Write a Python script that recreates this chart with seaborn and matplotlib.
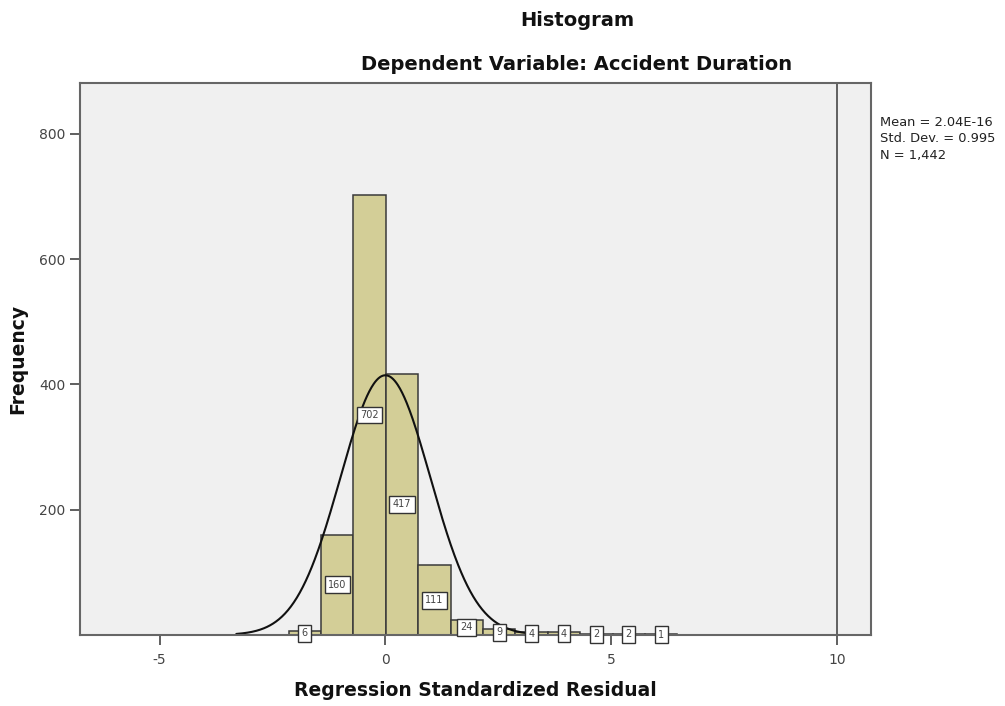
import numpy as np
import pandas as pd
import matplotlib
matplotlib.use("Agg")
import matplotlib.pyplot as plt
import seaborn as sns

# ---- data ----
counts = [6, 160, 702, 417, 111, 24, 9, 4, 4, 2, 2, 1]
bin_start = -2.14
bin_width = 0.717
stat_mean = 2.04e-16
stat_sd = 0.995
stat_n = 1442
x_ticks = [-5, 0, 5, 10]
y_ticks = [200, 400, 600, 800]
ref_line_x = 10

title1 = "Histogram"
title2 = "Dependent Variable: Accident Duration"
x_label = "Regression Standardized Residual"
y_label = "Frequency"
legend_lines = ["Mean = 2.04E-16", "Std. Dev. = 0.995", "N = 1,442"]

# ---- derived ----
edges = [bin_start + bin_width * i for i in range(len(counts) + 1)]
centers = [(edges[i] + edges[i + 1]) / 2 for i in range(len(counts))]
df = pd.DataFrame({"resid": centers, "count": counts})

xs = np.linspace(-3.3, 3.3, 400)
pdf = np.exp(-0.5 * ((xs - stat_mean) / stat_sd) ** 2) / (stat_sd * np.sqrt(2 * np.pi))
curve = pd.DataFrame({"x": xs, "y": stat_n * bin_width * pdf})

sns.set_theme(style="white")
plt.rcParams["font.family"] = ["DejaVu Sans"]

W, H = 1005, 706
fig = plt.figure(figsize=(W / 100, H / 100), dpi=100)
ax = fig.add_axes([80 / W, 1 - 635 / H, (871 - 80) / W, (635 - 83) / H])
ax.set_facecolor("#F0F0F0")

sns.histplot(data=df, x="resid", weights="count", bins=edges, ax=ax,
             color="#D3CE97", alpha=1, edgecolor="#3A3A3A", linewidth=1.1)
sns.lineplot(data=curve, x="x", y="y", ax=ax, color="#111111", linewidth=1.5)
ax.axvline(ref_line_x, color="#555555", linewidth=1.3)

for c, n in zip(centers, counts):
    ax.text(c, n / 2, str(n), ha="center", va="center", fontsize=7, color="#444444",
            clip_on=False, zorder=5,
            bbox=dict(boxstyle="square,pad=0.35", facecolor="white", edgecolor="#333333", linewidth=1.0))

ax.set_xlim(-6.76, 10.75)
ax.set_ylim(0, 881)
ax.set_xticks(x_ticks)
ax.set_xticklabels(["-5", "0", "5", "10"])
ax.set_yticks(y_ticks)
ax.tick_params(axis="both", direction="out", length=7, width=1.2, color="#444444",
               labelsize=10, labelcolor="#444444", bottom=True, left=True)
ax.tick_params(axis="x", pad=6)
for s in ax.spines.values():
    s.set_color("#666666")
    s.set_linewidth(1.5)
ax.set_xlabel("")
ax.set_ylabel("")

fig.text(475 / W, 1 - 690 / H, x_label, ha="center", va="center",
         fontsize=13.5, fontweight="bold", color="#111111")
fig.text(18 / W, 1 - 359 / H, y_label, ha="center", va="center", rotation=90,
         fontsize=13.5, fontweight="bold", color="#111111")

fig.text(577 / W, 1 - 20 / H, title1, ha="center", va="center",
         fontsize=14, fontweight="bold", color="#111111")
fig.text(577 / W, 1 - 64 / H, title2, ha="center", va="center",
         fontsize=14, fontweight="bold", color="#111111")

for i, line in enumerate(legend_lines):
    fig.text(880 / W, 1 - (122 + 16.5 * i) / H, line, ha="left", va="center",
             fontsize=9.4, color="#222222")

fig.savefig("out.png", dpi=100, facecolor="white")
